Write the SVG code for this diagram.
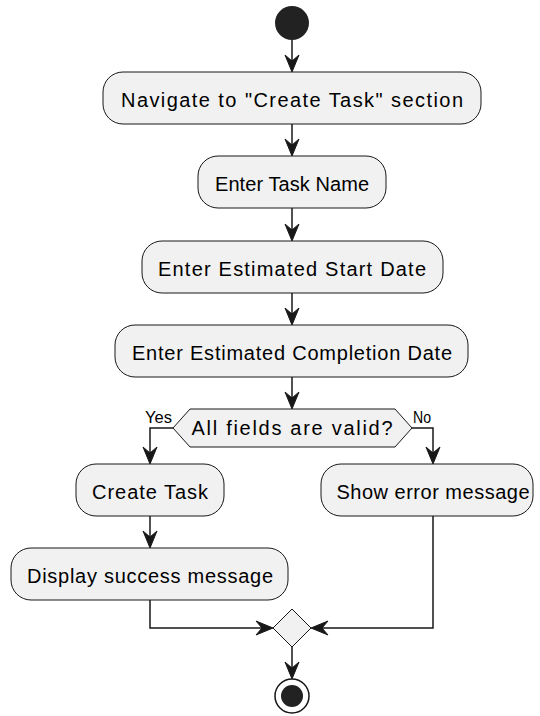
<svg xmlns="http://www.w3.org/2000/svg" width="540" height="716" viewBox="0 0 540 716">
  <style>
    .act { fill: #F1F1F1; stroke: #181818; stroke-width: 1; }
    .lbl { font-family: "Liberation Sans", Arial, sans-serif; font-size: 20px; fill: #000; }
    .small { font-family: "Liberation Sans", Arial, sans-serif; font-size: 16px; fill: #000; }
    .edge { fill: none; stroke: #181818; stroke-width: 1.5; }
    .head { fill: #181818; stroke: #181818; stroke-width: 1; }
  </style>
  <rect width="540" height="716" fill="#FFFFFF"/>

  <!-- start -->
  <g id="start">
    <circle cx="292" cy="23" r="17" fill="#222222"/>
  </g>

  <g id="navigate">
    <rect class="act" x="103" y="72" width="378" height="52" rx="20"/>
    <text class="lbl" x="292" y="107" text-anchor="middle" textLength="342" lengthAdjust="spacing">Navigate to "Create Task" section</text>
  </g>
  <g id="enter-name">
    <rect class="act" x="198" y="156" width="188" height="52" rx="20"/>
    <text class="lbl" x="292" y="191" text-anchor="middle" textLength="154" lengthAdjust="spacing">Enter Task Name</text>
  </g>
  <g id="enter-start">
    <rect class="act" x="142" y="241" width="301" height="52" rx="20"/>
    <text class="lbl" x="292" y="276" text-anchor="middle" textLength="268" lengthAdjust="spacing">Enter Estimated Start Date</text>
  </g>
  <g id="enter-completion">
    <rect class="act" x="115" y="325" width="353" height="52" rx="20"/>
    <text class="lbl" x="292" y="360" text-anchor="middle" textLength="320" lengthAdjust="spacing">Enter Estimated Completion Date</text>
  </g>

  <g id="decision">
    <polygon class="act" points="173,428 190,409 395,409 412,428 395,447 190,447"/>
    <text class="lbl" x="292" y="435" text-anchor="middle" textLength="201" lengthAdjust="spacing">All fields are valid?</text>
  </g>

  <g id="create-task">
    <rect class="act" x="76" y="464" width="148" height="52" rx="20"/>
    <text class="lbl" x="150" y="499" text-anchor="middle" textLength="116" lengthAdjust="spacing">Create Task</text>
  </g>
  <g id="show-error">
    <rect class="act" x="321" y="464" width="212" height="52" rx="20"/>
    <text class="lbl" x="433" y="499" text-anchor="middle" textLength="193" lengthAdjust="spacing">Show error message</text>
  </g>
  <g id="display-success">
    <rect class="act" x="11" y="548" width="277" height="52" rx="20"/>
    <text class="lbl" x="150" y="583" text-anchor="middle" textLength="246" lengthAdjust="spacing">Display success message</text>
  </g>

  <g id="merge">
    <polygon class="act" points="292,609 311,628 292,647 273,628"/>
  </g>

  <g id="end">
    <circle cx="292" cy="696" r="17" fill="none" stroke="#181818" stroke-width="1.5"/>
    <circle cx="292" cy="696" r="11" fill="#222222"/>
  </g>

  <defs>
    <!-- notched arrowhead pointing down, tip at origin -->
    <polygon id="ah" points="0,0 -7,-17 0,-11 7,-17"/>
  </defs>

  <g id="connectors">
    <path class="edge" d="M292,40 V68"/>
    <use href="#ah" class="head" x="292" y="72"/>
    <path class="edge" d="M292,124 V152"/>
    <use href="#ah" class="head" x="292" y="156"/>
    <path class="edge" d="M292,208 V237"/>
    <use href="#ah" class="head" x="292" y="241"/>
    <path class="edge" d="M292,293 V321"/>
    <use href="#ah" class="head" x="292" y="325"/>
    <path class="edge" d="M292,377 V405"/>
    <use href="#ah" class="head" x="292" y="409"/>

    <!-- yes branch -->
    <path class="edge" d="M173,428 H150 V460"/>
    <use href="#ah" class="head" x="150" y="464"/>
    <text class="small" x="145" y="423" textLength="27" lengthAdjust="spacingAndGlyphs">Yes</text>
    <!-- no branch -->
    <path class="edge" d="M412,428 H433 V460"/>
    <use href="#ah" class="head" x="433" y="464"/>
    <text class="small" x="413" y="423" textLength="18" lengthAdjust="spacingAndGlyphs">No</text>

    <path class="edge" d="M150,516 V544"/>
    <use href="#ah" class="head" x="150" y="548"/>

    <!-- merge -->
    <path class="edge" d="M150,600 V628 H269"/>
    <use href="#ah" class="head" transform="translate(273,628) rotate(-90)"/>
    <path class="edge" d="M433,516 V628 H315"/>
    <use href="#ah" class="head" transform="translate(311,628) rotate(90)"/>

    <path class="edge" d="M292,647 V675"/>
    <use href="#ah" class="head" x="292" y="679"/>
  </g>
</svg>
